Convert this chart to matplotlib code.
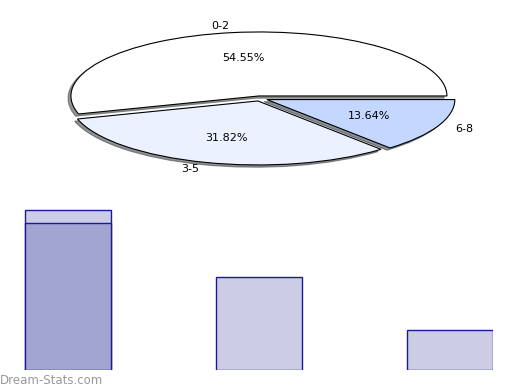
import matplotlib
matplotlib.use("Agg")
import matplotlib.pyplot as plt

# data
labels = ["0-2", "3-5", "6-8"]
counts = [12, 7, 3]
highlight = [11, 0, 0]   # darker overlay on the first bar
pie_colors = ["#FFFFFF", "#EBF1FF", "#C4D8FF"]

fig = plt.figure(figsize=(5.2, 3.9), dpi=100)

# squashed pie on top
ax_pie = fig.add_axes([-3.2 / 520, (390 - 194.5) / 390, 526.4 / 520, 192 / 390])
ax_pie.pie(counts, labels=labels, colors=pie_colors, autopct="%.2f%%",
           explode=[0.04] * 3,
           shadow={"ox": -0.011, "oy": -0.025, "alpha": 0.6},
           startangle=0,
           wedgeprops=dict(edgecolor="black", linewidth=0.8),
           textprops=dict(fontsize=8))
ax_pie.set_aspect("auto")
ax_pie.set_xlim(-1.4, 1.4)
ax_pie.set_ylim(-1.5, 1.5)
ax_pie.axis("off")

# bars below
ax_bar = fig.add_axes([23 / 520, (390 - 369.5) / 390, (492.5 - 23) / 520, 169.5 / 390])
x = list(range(len(counts)))
ax_bar.bar(x, counts, width=0.45, color="#CCCCE4", edgecolor="#1A1A99", linewidth=1)
hx = [i for i, v in enumerate(highlight) if v > 0]
hv = [v for v in highlight if v > 0]
ax_bar.bar(hx, hv, width=0.45, color="#A3A5D1", edgecolor="#1A1A99", linewidth=1)
ax_bar.set_xlim(-45 / 191, 2 + 42.3 / 191)
ax_bar.set_ylim(0.0375, 12.75)
ax_bar.axis("off")

fig.text(0, 10 / 390, "Dream-Stats.com", fontsize=8.5, color="#999999",
         ha="left", va="center")

fig.savefig("out.png", dpi=100)
